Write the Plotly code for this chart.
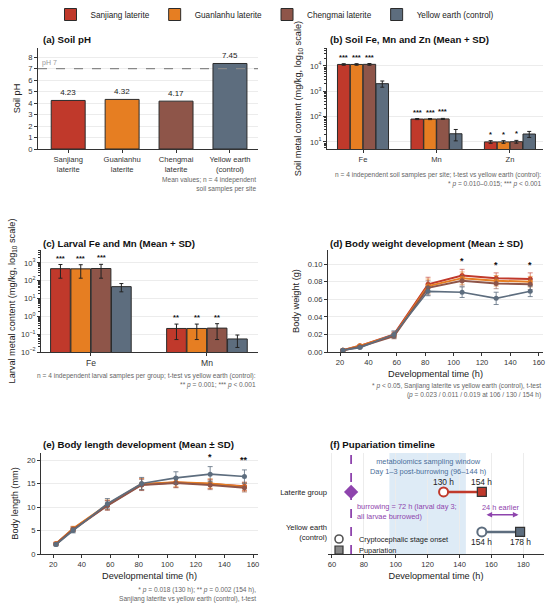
import math
import plotly.graph_objects as go

FONT = "Liberation Sans"

# ---- data ----
sites = ["Sanjiang laterite", "Guanlanhu laterite", "Chengmai laterite", "Yellow earth (control)"]
site_ticks = ["Sanjiang<br>laterite", "Guanlanhu<br>laterite", "Chengmai<br>laterite", "Yellow earth<br>(control)"]
site_colors = ["#c0392b", "#e67e22", "#8e5549", "#5d6d7e"]
site_err_colors = ["rgba(192,57,43,0.6)", "rgba(230,126,34,0.6)", "rgba(142,85,73,0.6)", "rgba(93,109,126,0.8)"]

soil_ph = [4.23, 4.32, 4.17, 7.45]
ph_neutral = 7

soil_metals = ["Fe", "Mn", "Zn"]
soil_mean = [[11500, 80, 10.0], [11500, 80, 10.0], [11600, 81, 10.2], [2000, 21, 20.5]]
soil_sd = [[800, 4, 1.2], [800, 4, 1.2], [900, 4, 1.3], [550, 10, 5.5]]
soil_stars = ["***", "***", "*"]

larval_metals = ["Fe", "Mn"]
larval_mean = [[480, 0.21], [470, 0.21], [490, 0.22], [47, 0.054]]
larval_sd = [[340, 0.16], [330, 0.16], [350, 0.17], [23, 0.036]]
larval_stars = ["***", "**"]

dev_time = [22, 34, 58, 82, 106, 130, 154]
weight_mean = [
    [0.002, 0.007, 0.020, 0.077, 0.087, 0.084, 0.083],
    [0.002, 0.007, 0.019, 0.075, 0.084, 0.081, 0.080],
    [0.002, 0.006, 0.018, 0.073, 0.081, 0.078, 0.077],
    [0.002, 0.005, 0.020, 0.069, 0.068, 0.061, 0.069],
]
weight_sd = [
    [0.001, 0.001, 0.003, 0.008, 0.007, 0.006, 0.007],
    [0.001, 0.001, 0.003, 0.008, 0.007, 0.006, 0.006],
    [0.001, 0.001, 0.003, 0.008, 0.006, 0.006, 0.006],
    [0.001, 0.001, 0.004, 0.005, 0.006, 0.007, 0.006],
]
weight_sig_time = [106, 130, 154]
weight_sig_stars = ["*", "*", "*"]

length_mean = [
    [2.2, 5.3, 10.4, 14.8, 15.2, 14.9, 14.4],
    [2.2, 5.4, 10.5, 14.9, 15.3, 15.0, 14.3],
    [2.1, 5.2, 10.3, 14.7, 15.1, 14.7, 14.1],
    [2.0, 5.0, 10.7, 15.0, 16.2, 17.0, 16.5],
]
length_sd = [
    [0.3, 0.5, 1.0, 1.2, 1.0, 1.0, 0.9],
    [0.3, 0.5, 1.0, 1.2, 1.0, 1.0, 0.9],
    [0.3, 0.5, 1.0, 1.2, 1.0, 1.0, 0.9],
    [0.3, 0.5, 1.1, 1.3, 1.3, 1.6, 1.4],
]
length_sig_time = [130, 154]
length_sig_stars = ["*", "**"]

timeline_groups = ["Laterite group", "Yellow earth<br>(control)"]
timeline_rows = [1, 0]
crypto_onset = [130, 154]
pupariation = [154, 178]
timeline_colors = ["#c0392b", "#5d6d7e"]
burrow_time = 72
sampling_window = [96, 144]

PURPLE = "#8e44ad"
EDGE = "#2b2b2b"
NOTE = "#666666"
TICK = 7.6


def px_x(p):
    return p / 550


def px_y(p):
    return 1 - p / 607


fig = go.Figure()

# (a) soil pH
for i in range(4):
    fig.add_trace(go.Bar(
        x=[site_ticks[i]], y=[soil_ph[i]], name=sites[i], legendgroup=sites[i],
        marker=dict(color=site_colors[i], line=dict(color=EDGE, width=1)),
        width=0.63, offsetgroup="ph",
        text=[f"{soil_ph[i]:.2f}"], textposition="outside", cliponaxis=False,
        textfont=dict(size=8, color="#222"),
        xaxis="x", yaxis="y"))

# (b) soil metals
for i in range(4):
    fig.add_trace(go.Bar(
        x=soil_metals, y=soil_mean[i], name=sites[i], legendgroup=sites[i], showlegend=False,
        marker=dict(color=site_colors[i], line=dict(color=EDGE, width=1)),
        error_y=dict(type="data", array=soil_sd[i], color="#222", thickness=1, width=2),
        xaxis="x2", yaxis="y2"))

# (c) larval metals
for i in range(4):
    fig.add_trace(go.Bar(
        x=larval_metals, y=larval_mean[i], name=sites[i], legendgroup=sites[i], showlegend=False,
        marker=dict(color=site_colors[i], line=dict(color=EDGE, width=1)),
        error_y=dict(type="data", array=larval_sd[i], color="#222", thickness=1, width=2),
        xaxis="x3", yaxis="y3"))

# (d) body weight, (e) body length
for i in range(4):
    lw = 1.6 if i == 3 else 2.0
    fig.add_trace(go.Scatter(
        x=dev_time, y=weight_mean[i], mode="lines+markers", name=sites[i],
        legendgroup=sites[i], showlegend=False,
        line=dict(color=site_colors[i], width=lw), marker=dict(color=site_colors[i], size=5),
        error_y=dict(type="data", array=weight_sd[i], color=site_err_colors[i], thickness=1, width=2.5),
        xaxis="x4", yaxis="y4"))
    fig.add_trace(go.Scatter(
        x=dev_time, y=length_mean[i], mode="lines+markers", name=sites[i],
        legendgroup=sites[i], showlegend=False,
        line=dict(color=site_colors[i], width=lw), marker=dict(color=site_colors[i], size=5),
        error_y=dict(type="data", array=length_sd[i], color=site_err_colors[i], thickness=1, width=2.5),
        xaxis="x5", yaxis="y5"))

# (f) pupariation timeline
for g in range(2):
    fig.add_trace(go.Scatter(
        x=[crypto_onset[g], pupariation[g]], y=[timeline_rows[g]] * 2, mode="lines",
        line=dict(color=timeline_colors[g], width=2.5), showlegend=False, hoverinfo="skip",
        xaxis="x6", yaxis="y6"))
    fig.add_trace(go.Scatter(
        x=[crypto_onset[g]], y=[timeline_rows[g]], mode="markers", showlegend=False,
        marker=dict(symbol="circle", size=9, color="white", line=dict(color=timeline_colors[g], width=2)),
        xaxis="x6", yaxis="y6"))
    fig.add_trace(go.Scatter(
        x=[pupariation[g]], y=[timeline_rows[g]], mode="markers", showlegend=False,
        marker=dict(symbol="square", size=9, color=timeline_colors[g], line=dict(color="#333", width=1.2)),
        xaxis="x6", yaxis="y6"))
fig.add_trace(go.Scatter(
    x=[burrow_time], y=[timeline_rows[0]], mode="markers", showlegend=False,
    marker=dict(symbol="diamond", size=11, color=PURPLE), xaxis="x6", yaxis="y6"))
# marker key for panel (f): one small legend per entry so the rows sit close together
fig.add_trace(go.Scatter(
    x=[None], y=[None], mode="markers", name="Cryptocephalic stage onset", legend="legend2",
    marker=dict(symbol="circle", size=8, color="white", line=dict(color="#555", width=1.6)),
    xaxis="x6", yaxis="y6"))
fig.add_trace(go.Scatter(
    x=[None], y=[None], mode="markers", name="Pupariation", legend="legend3",
    marker=dict(symbol="square", size=8, color="#888", line=dict(color="#333", width=1.2)),
    xaxis="x6", yaxis="y6"))

# ---- annotations ----
ann = []
titles = [
    ("(a) Soil pH", 41, 40), ("(b) Soil Fe, Mn and Zn (Mean + SD)", 328, 40),
    ("(c) Larval Fe and Mn (Mean + SD)", 41, 243), ("(d) Body weight development (Mean ± SD)", 328, 243),
    ("(e) Body length development (Mean ± SD)", 41, 444), ("(f) Pupariation timeline", 328, 444),
]
for t, x, y in titles:
    ann.append(dict(text=f"<b>{t}</b>", x=px_x(x), y=px_y(y), xref="paper", yref="paper",
                    xanchor="left", yanchor="middle", showarrow=False,
                    font=dict(size=9.7, color="#111")))

notes = [
    ("Mean values; n = 4 independent<br>soil samples per site", 258, 174),
    ("n = 4 independent soil samples per site; t-test vs yellow earth (control):<br>"
     "* <i>p</i> = 0.010–0.015; *** <i>p</i> < 0.001", 543, 169),
    ("n = 4 independent larval samples per group; t-test vs yellow earth (control):<br>"
     "** <i>p</i> = 0.001; *** <i>p</i> < 0.001", 258, 370),
    ("* <i>p</i> < 0.05, Sanjiang laterite vs yellow earth (control), t-test<br>"
     "(<i>p</i> = 0.023 / 0.011 / 0.019 at 106 / 130 / 154 h)", 543, 380),
    ("* <i>p</i> = 0.018 (130 h); ** <i>p</i> = 0.002 (154 h),<br>"
     "Sanjiang laterite vs yellow earth (control), t-test", 258, 584),
]
for t, x, y in notes:
    ann.append(dict(text=t, x=px_x(x), y=px_y(y), xref="paper", yref="paper",
                    xanchor="right", yanchor="top", align="right", showarrow=False,
                    font=dict(size=6.6, color=NOTE)))

# pH 7 label
ann.append(dict(text="pH 7", x=0.01, y=ph_neutral, xref="x domain", yref="y",
                xanchor="left", yanchor="bottom", showarrow=False,
                font=dict(size=7, color="#999")))

# significance stars on bars (bars are grouped: 4 per category, group width 0.7)
slot = 0.7 / 4
for j, s in enumerate(soil_stars):
    for i in range(3):
        ann.append(dict(text=f"<b>{s}</b>", x=j + (i - 1.5) * slot,
                        y=math.log10(soil_mean[i][j] + soil_sd[i][j]),
                        xref="x2", yref="y2", yanchor="bottom", showarrow=False, yshift=0,
                        font=dict(size=7.5, color="#111")))
for j, s in enumerate(larval_stars):
    for i in range(3):
        ann.append(dict(text=f"<b>{s}</b>", x=j + (i - 1.5) * slot,
                        y=math.log10(larval_mean[i][j] + larval_sd[i][j]),
                        xref="x3", yref="y3", yanchor="bottom", showarrow=False, yshift=0,
                        font=dict(size=7.5, color="#111")))

for t, s in zip(weight_sig_time, weight_sig_stars):
    k = dev_time.index(t)
    top = max(weight_mean[i][k] + weight_sd[i][k] for i in range(4))
    ann.append(dict(text=f"<b>{s}</b>", x=t, y=top, xref="x4", yref="y4", yanchor="bottom",
                    showarrow=False, yshift=1, font=dict(size=9, color="#111")))
for t, s in zip(length_sig_time, length_sig_stars):
    k = dev_time.index(t)
    top = max(length_mean[i][k] + length_sd[i][k] for i in range(4))
    ann.append(dict(text=f"<b>{s}</b>", x=t, y=top, xref="x5", yref="y5", yanchor="bottom",
                    showarrow=False, yshift=3, font=dict(size=9, color="#111")))

# timeline labels
for g in range(2):
    shift = 10 if g == 0 else -10
    for xv in (crypto_onset[g], pupariation[g]):
        ann.append(dict(text=f"{xv} h", x=xv, y=timeline_rows[g], xref="x6", yref="y6",
                        showarrow=False, yshift=shift, font=dict(size=8.4, color="#222")))
ann.append(dict(text="metabolomics sampling window<br>Day 1–3 post-burrowing (96–144 h)",
                x=(sampling_window[0] + sampling_window[1]) / 2, y=0.985, xref="x6", yref="y6 domain",
                yanchor="top", showarrow=False, font=dict(size=7.4, color="#4a6f9a")))
ann.append(dict(text="burrowing = 72 h (larval day 3;<br>all larvae burrowed)",
                x=burrow_time + 2.5, y=0.52, xref="x6", yref="y6", xanchor="left", align="left",
                showarrow=False, font=dict(size=7.4, color=PURPLE)))
ann.append(dict(text="", x=pupariation[1] - 1, y=0.43, ax=pupariation[0] + 2, ay=0.43,
                xref="x6", yref="y6", axref="x6", ayref="y6", showarrow=True,
                arrowhead=2, arrowside="end+start", arrowsize=0.8, arrowwidth=1.4, arrowcolor=PURPLE))
ann.append(dict(text=f"{pupariation[1] - pupariation[0]} h earlier",
                x=(pupariation[0] + pupariation[1]) / 2, y=0.43, xref="x6", yref="y6",
                yanchor="bottom", yshift=1,
                showarrow=False, font=dict(size=7.4, color=PURPLE)))

shapes = [
    dict(type="line", x0=0, x1=1, xref="x domain", y0=ph_neutral, y1=ph_neutral, yref="y",
         line=dict(color="#888", width=1.2, dash="dash")),
    dict(type="rect", x0=sampling_window[0], x1=sampling_window[1], xref="x6",
         y0=0, y1=1, yref="y6 domain", fillcolor="#d3e4f3", opacity=0.75, line=dict(width=0), layer="below"),
    dict(type="line", x0=burrow_time, x1=burrow_time, xref="x6", y0=0, y1=1, yref="y6 domain",
         line=dict(color=PURPLE, width=1.8, dash="dash")),
]

axis_common = dict(showline=True, linecolor="#333", linewidth=1, ticks="outside", ticklen=3,
                   tickcolor="#333", tickfont=dict(size=TICK, color="#333"), zeroline=False,
                   gridcolor="#ececec", automargin=False)
title_font = dict(size=9.2, color="#222")
xtitle_font = dict(size=9.2, color="#222")


def log_ticks(lo, hi):
    vals = [10 ** k for k in range(lo, hi + 1)]
    txt = [f"10<sup>{'−' if k < 0 else ''}{abs(k)}</sup>" for k in range(lo, hi + 1)]
    minor = [m * 10 ** k for k in range(lo - 1, hi + 1) for m in range(2, 10)]
    return vals, txt, minor


b_vals, b_txt, b_minor = log_ticks(1, 4)
c_vals, c_txt, c_minor = log_ticks(-2, 3)

dom_a_y = [px_y(149), px_y(48)]
dom_c_y = [px_y(352), px_y(250)]
dom_e_y = [px_y(554), px_y(453)]
dom_l_x = [px_x(41), px_x(258)]
dom_r_x = [px_x(328), px_x(543)]

key_legend = dict(xanchor="left", yanchor="middle", font=dict(size=7.4, color="#222"),
                  bgcolor="rgba(0,0,0,0)", borderwidth=0, itemwidth=30)

fig.update_layout(
    width=550, height=607, margin=dict(l=0, r=0, t=0, b=0),
    paper_bgcolor="white", plot_bgcolor="white",
    font=dict(family=FONT, color="#222"),
    barmode="group", bargap=0.3, bargroupgap=0.03,
    annotations=ann, shapes=shapes,
    legend=dict(orientation="h", x=0.5, xanchor="center", y=1.0, yanchor="top",
                font=dict(size=8.2, color="#222"), bgcolor="rgba(0,0,0,0)", itemwidth=30),
    legend2=dict(key_legend, x=px_x(319), y=px_y(539)),
    legend3=dict(key_legend, x=px_x(319), y=px_y(550)),
    xaxis=dict(axis_common, domain=[px_x(38), px_x(258)], anchor="y", range=[-0.56, 3.52],
               showgrid=False),
    yaxis=dict(axis_common, domain=dom_a_y, anchor="x", range=[0, 8.8], dtick=1, showgrid=True,
               title=dict(text="Soil pH", font=title_font, standoff=6)),
    xaxis2=dict(axis_common, domain=[px_x(327), px_x(543)], anchor="y2", range=[-0.49, 2.45],
                showgrid=False),
    yaxis2=dict(axis_common, domain=dom_a_y, anchor="x2", type="log", range=[0.72, 4.71],
                tickvals=b_vals, ticktext=b_txt, showgrid=True,
                minor=dict(tickvals=b_minor, ticks="outside", ticklen=2, tickcolor="#333", showgrid=False),
                title=dict(text="Soil metal content (mg/kg, log<sub>10</sub> scale)", font=title_font, standoff=6)),
    xaxis3=dict(axis_common, domain=dom_l_x, anchor="y3", range=[-0.43, 1.44], showgrid=False,
                tickfont=dict(size=8.6, color="#333")),
    yaxis3=dict(axis_common, domain=dom_c_y, anchor="x3", type="log", range=[-2, 3.73],
                tickvals=c_vals, ticktext=c_txt, showgrid=True,
                minor=dict(tickvals=c_minor, ticks="outside", ticklen=2, tickcolor="#333", showgrid=False),
                title=dict(text="Larval metal content (mg/kg, log<sub>10</sub> scale)", font=title_font, standoff=3)),
    xaxis4=dict(axis_common, domain=dom_r_x, anchor="y4", range=[11.5, 163], tickvals=list(range(20, 161, 20)),
                showgrid=False, title=dict(text="Developmental time (h)", font=xtitle_font, standoff=4)),
    yaxis4=dict(axis_common, domain=dom_c_y, anchor="x4", range=[0, 0.116], dtick=0.02, tickformat=".2f",
                showgrid=True, title=dict(text="Body weight (g)", font=title_font, standoff=6)),
    xaxis5=dict(axis_common, domain=dom_l_x, anchor="y5", range=[11.5, 163.5], tickvals=list(range(20, 161, 20)),
                showgrid=False, title=dict(text="Developmental time (h)", font=xtitle_font, standoff=4)),
    yaxis5=dict(axis_common, domain=dom_e_y, anchor="x5", range=[0, 21.5], dtick=5,
                showgrid=True, title=dict(text="Body length (mm)", font=title_font, standoff=6)),
    xaxis6=dict(axis_common, domain=[px_x(328), px_x(544)], anchor="y6", range=[57.5, 193],
                tickvals=list(range(60, 181, 20)), showgrid=True,
                title=dict(text="Developmental time (h)", font=xtitle_font, standoff=4)),
    yaxis6=dict(axis_common, domain=dom_e_y, anchor="x6", range=[-0.55, 1.97],
                tickvals=timeline_rows, ticktext=timeline_groups, showline=False, ticks="",
                showgrid=False, tickfont=dict(size=7.6, color="#222")),
)

# the page's default body margin would push the 550x607 figure off the window edge
fig.write_html("out.html", config={"displayModeBar": False},
               post_script="document.body.style.margin = '0';")
